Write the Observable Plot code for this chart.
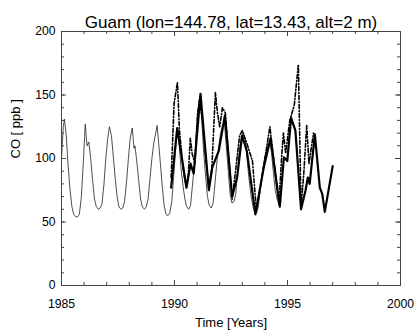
<!DOCTYPE html>
<html><head><meta charset="utf-8">
<script src="https://cdn.jsdelivr.net/npm/d3@7"></script>
<script src="https://cdn.jsdelivr.net/npm/@observablehq/plot@0.6"></script>
<style>
body{margin:0;background:#fff}
svg{display:block}
</style>
</head><body><div id="chart"></div>
<script>
const title = "Guam (lon=144.78, lat=13.43, alt=2 m)";
const xLabel = "Time [Years]";
const yLabel = "CO [ ppb ]";
const xTicks = [1985, 1990, 1995, 2000];
const xMinorTicks = [1985,1986,1987,1988,1989,1990,1991,1992,1993,1994,1995,1996,1997,1998,1999,2000];
const yTicks = [0, 50, 100, 150, 200];
const yMinorTicks = [0,10,20,30,40,50,60,70,80,90,100,110,120,130,140,150,160,170,180,190,200];

// thin line (long-term record)
const thinTime = [
 1985.00,1985.08,1985.13,1985.21,1985.29,1985.38,1985.46,1985.54,1985.63,1985.71,1985.79,1985.88,1985.96,
 1986.05,1986.13,1986.21,1986.29,1986.38,1986.46,1986.54,1986.63,1986.71,1986.79,1986.88,1986.96,
 1987.04,1987.12,1987.21,1987.29,1987.38,1987.46,1987.54,1987.63,1987.71,1987.79,1987.88,1987.96,
 1988.04,1988.13,1988.21,1988.25,1988.33,1988.42,1988.50,1988.58,1988.67,1988.75,1988.83,1988.92,
 1989.00,1989.08,1989.17,1989.23,1989.30,1989.38,1989.46,1989.54,1989.63,1989.71,1989.79,1989.88,1989.96,
 1990.04,1990.12,1990.21,1990.29,1990.38,1990.46,1990.54,1990.63,1990.71,1990.79,1990.88,1990.96,
 1991.04,1991.13,1991.21,1991.29,1991.38,1991.46,1991.54,1991.63,1991.71,1991.79,1991.88,1991.96,
 1992.04,1992.13,1992.21,1992.29,1992.38,1992.46,1992.54,1992.63,1992.71,1992.79,1992.88,1992.96,
 1993.04,1993.13,1993.21,1993.29,1993.38,1993.46,1993.54,1993.63,1993.71,1993.79,1993.88,1993.96,
 1994.04,1994.13,1994.21,1994.29,1994.38,1994.46,1994.54,1994.63,1994.71
];
const thinCO = [
 100,125,131,118,95,75,62,56,54,54,56,70,95,
 127,110,113,100,82,68,62,60,61,64,80,100,
 115,125,118,102,84,70,62,60,61,66,82,100,
 116,124,108,110,98,82,68,62,60,62,68,85,
 100,112,120,126,112,95,78,63,56,55,57,66,85,
 105,122,110,92,78,68,62,60,63,78,95,120,
 138,148,130,105,85,70,63,61,65,80,98,110,
 120,126,128,110,90,72,65,66,72,90,108,116,
 120,115,100,85,72,63,58,57,62,75,88,98,
 105,110,113,105,88,75,68,64,66
];

// thick solid line
const solidTime = [1989.85,1990.12,1990.53,1990.71,1990.85,1991.15,1991.52,1991.67,1991.96,1992.23,1992.55,1992.77,1992.99,1993.20,1993.58,1993.95,1994.25,1994.66,1994.84,1994.99,1995.16,1995.35,1995.60,1995.80,1995.90,1995.98,1996.21,1996.43,1996.54,1996.65,1997.00];
const solidCO   = [77,124,77,96,88,151,75,93,106,134,70,85,118,106,56,93,116,62,101,98,132,122,60,75,85,80,119,77,72,58,94];

// dash-dot line
const dashTime = [1989.85,1989.92,1989.98,1990.13,1990.22,1990.38,1990.50,1990.60,1990.70,1990.78,1990.90,1991.02,1991.10,1991.22,1991.38,1991.52,1991.65,1991.81,1991.90,1992.00,1992.12,1992.25,1992.40,1992.55,1992.70,1992.88,1993.00,1993.20,1993.45,1993.62,1993.75,1994.00,1994.22,1994.42,1994.62,1994.75,1994.82,1994.92,1995.10,1995.30,1995.48,1995.60,1995.72,1995.85,1995.95,1996.15];
const dashCO   = [85,115,143,160,122,92,79,84,116,104,96,135,146,132,100,78,92,152,136,125,140,136,100,68,90,118,122,112,98,60,72,100,125,95,64,104,120,104,130,142,174,62,88,126,96,120];

const thin = thinTime.map((t, i) => ({t, v: thinCO[i]}));
const solid = solidTime.map((t, i) => ({t, v: solidCO[i]}));
const dash = dashTime.map((t, i) => ({t, v: dashCO[i]}));

const W = 418, H = 336, ML = 61, MR = 18, MT = 31, MB = 51;
const PW = W - ML - MR, PH = H - MT - MB;
const axisColor = "#444";
const MAJ = 5, MIN = 3;
const tickFont = 12.2;

const chart = Plot.plot({
  width: W, height: H,
  marginLeft: ML, marginRight: MR, marginTop: MT, marginBottom: MB,
  x: {domain: [1985, 2000], axis: null},
  y: {domain: [0, 200], axis: null},
  style: {fontFamily: "'Liberation Sans', Arial, Helvetica, sans-serif", fontSize: "12px", color: "black", background: "white"},
  marks: [
    Plot.line(thin, {x: "t", y: "v", stroke: "#222", strokeWidth: 0.8}),
    Plot.line(dash, {x: "t", y: "v", stroke: "black", strokeWidth: 1.6, strokeDasharray: "4,2,1,2"}),
    Plot.line(solid, {x: "t", y: "v", stroke: "black", strokeWidth: 2.2}),
    Plot.frame({stroke: axisColor}),
    // inward ticks bottom / top
    Plot.ruleX(xMinorTicks, {x: d => d, insetTop: PH - MIN, stroke: axisColor}),
    Plot.ruleX(xTicks, {x: d => d, insetTop: PH - MAJ, stroke: axisColor}),
    Plot.ruleX(xMinorTicks, {x: d => d, insetBottom: PH - MIN, stroke: axisColor}),
    Plot.ruleX(xTicks, {x: d => d, insetBottom: PH - MAJ, stroke: axisColor}),
    // inward ticks left / right
    Plot.ruleY(yMinorTicks, {y: d => d, insetRight: PW - MIN, stroke: axisColor}),
    Plot.ruleY(yTicks, {y: d => d, insetRight: PW - MAJ, stroke: axisColor}),
    Plot.ruleY(yMinorTicks, {y: d => d, insetLeft: PW - MIN, stroke: axisColor}),
    Plot.ruleY(yTicks, {y: d => d, insetLeft: PW - MAJ, stroke: axisColor}),
    // tick labels
    Plot.text(xTicks, {x: d => d, text: d => String(d), frameAnchor: "bottom", lineAnchor: "top", dy: 14, fontSize: tickFont}),
    Plot.text(yTicks, {y: d => d, text: d => String(d), frameAnchor: "left", textAnchor: "end", dx: -6, fontSize: tickFont}),
    // titles
    Plot.text([title], {frameAnchor: "top", dy: -16, fontSize: 17, text: d => d}),
    Plot.text([xLabel], {frameAnchor: "bottom", dy: 41, fontSize: 13, text: d => d}),
    Plot.text([yLabel], {frameAnchor: "left", dx: -46, rotate: -90, fontSize: 13, text: d => d})
  ]
});
document.getElementById("chart").appendChild(chart);
</script>
</body></html>
